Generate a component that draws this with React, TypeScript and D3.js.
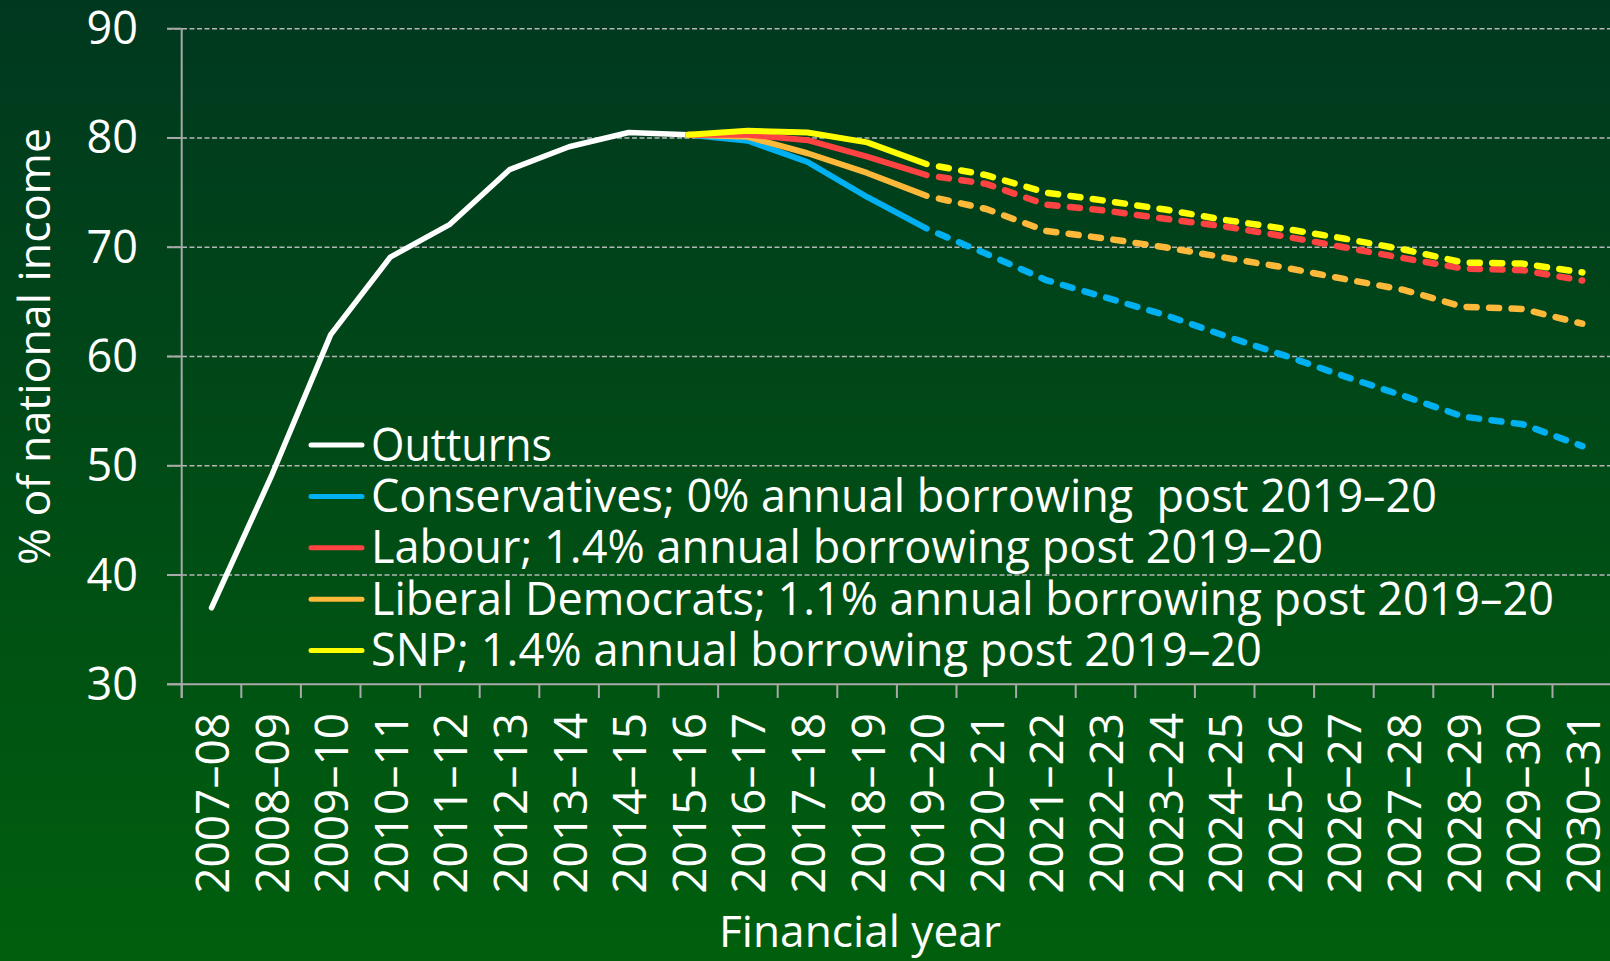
import React from "react";
import * as d3 from "d3";

const years = [
  "2007–08", "2008–09", "2009–10", "2010–11", "2011–12", "2012–13", "2013–14", "2014–15",
  "2015–16", "2016–17", "2017–18", "2018–19", "2019–20", "2020–21", "2021–22", "2022–23",
  "2023–24", "2024–25", "2025–26", "2026–27", "2027–28", "2028–29", "2029–30", "2030–31",
];

const yTicks = [30, 40, 50, 60, 70, 80, 90];

// Outturns: 2007–08 .. 2015–16
const outturns = [37.0, 49.0, 62.0, 69.1, 72.1, 77.1, 79.2, 80.5, 80.3];

// Party projections: 2015–16 .. 2030–31
const conservatives = [80.3, 79.75, 77.8, 74.6, 71.7, 69.4, 67.0, 65.4, 63.8, 61.9, 60.1, 58.2, 56.4, 54.5, 53.8, 51.8];
const labour = [80.3, 80.3, 79.8, 78.3, 76.6, 75.8, 73.9, 73.35, 72.6, 71.9, 71.0, 70.0, 69.0, 68.05, 67.9, 66.95];
const libdems = [80.3, 80.1, 78.6, 76.8, 74.7, 73.5, 71.5, 70.8, 70.0, 69.05, 68.15, 67.1, 66.1, 64.55, 64.35, 63.0];
const snp = [80.3, 80.65, 80.5, 79.6, 77.6, 76.6, 75.0, 74.25, 73.45, 72.5, 71.7, 70.8, 69.8, 68.6, 68.5, 67.7];

const legendLabels = [
  "Outturns",
  "Conservatives; 0% annual borrowing  post 2019–20",
  "Labour; 1.4% annual borrowing post 2019–20",
  "Liberal Democrats; 1.1% annual borrowing post 2019–20",
  "SNP; 1.4% annual borrowing post 2019–20",
];
const legendWidths = [181, 1066, 952, 1183, 891];

const colors = {
  outturns: "#ffffff",
  conservatives: "#00b0f0",
  labour: "#ff4242",
  libdems: "#ffb93a",
  snp: "#ffff00",
};

const W = 1610;
const H = 961;
const FONT = "'Open Sans', 'Noto Sans', sans-serif";

export default function App() {
  const x = d3.scaleBand<string>().domain(years).range([181.7, 181.7 + 24 * 59.6]).padding(0);
  const y = d3.scaleLinear().domain([30, 90]).range([684.3, 28.7]);
  const bw = x.bandwidth();
  const cx = (i: number) => (x(years[i]) as number) + bw / 2;

  const line = d3
    .line<[number, number]>()
    .x((d) => d[0])
    .y((d) => d[1])
    .curve(d3.curveLinear);

  const outPts: [number, number][] = outturns.map((v, i) => [cx(i), y(v)]);
  const partyStart = 8; // 2015–16
  const splitIdx = 4; // 2019–20 within party arrays

  const parties = [
    { key: "conservatives", values: conservatives, color: colors.conservatives },
    { key: "libdems", values: libdems, color: colors.libdems },
    { key: "labour", values: labour, color: colors.labour },
    { key: "snp", values: snp, color: colors.snp },
  ];

  const legendColors = [colors.outturns, colors.conservatives, colors.labour, colors.libdems, colors.snp];
  const legendRowY = (i: number) => 445 + i * 51.4;

  const axisColor = "#a9a9a9";
  const gridColor = "#b6b6b6";

  return (
    <svg
      width={W}
      height={H}
      style={{ position: "absolute", left: 0, top: 0, display: "block" }}
      fontFamily={FONT}
    >
      <defs>
        <linearGradient id="bg" x1="0" y1="0" x2="0" y2="1">
          <stop offset="0%" stopColor="#00381f" />
          <stop offset="100%" stopColor="#005f0d" />
        </linearGradient>
      </defs>
      <rect x={0} y={0} width={W} height={H} fill="url(#bg)" />

      {/* gridlines */}
      {yTicks
        .filter((t) => t !== 30)
        .map((t) => (
          <line
            key={"g" + t}
            x1={167}
            x2={W}
            y1={y(t)}
            y2={y(t)}
            stroke={gridColor}
            strokeWidth={1.6}
            strokeDasharray="5 2.5"
          />
        ))}
      {/* y tick marks */}
      {yTicks.map((t) => (
        <line key={"yt" + t} x1={167} x2={181.7} y1={y(t)} y2={y(t)} stroke={axisColor} strokeWidth={2} />
      ))}
      {/* axes */}
      <line x1={181.7} x2={181.7} y1={y(90)} y2={698} stroke={axisColor} strokeWidth={2} />
      <line x1={167} x2={W} y1={y(30)} y2={y(30)} stroke={axisColor} strokeWidth={2} />
      {years.map((yr) => (
        <line
          key={"xt" + yr}
          x1={x(yr) as number}
          x2={x(yr) as number}
          y1={y(30)}
          y2={698}
          stroke={axisColor}
          strokeWidth={2}
        />
      ))}

      {/* y tick labels */}
      {yTicks.map((t) => (
        <text key={"yl" + t} x={138} y={y(t) + 15.5} textAnchor="end" fill="#ffffff" fontSize={45}>
          {t}
        </text>
      ))}

      {/* x tick labels */}
      {years.map((yr, i) => (
        <text
          key={"xl" + yr}
          transform={`translate(${cx(i) + 17.5},713) rotate(-90)`}
          textAnchor="end"
          fill="#ffffff"
          fontSize={46}
        >
          {yr}
        </text>
      ))}

      {/* axis titles */}
      <text
        transform="translate(49.5,346.5) rotate(-90)"
        textAnchor="middle"
        fill="#ffffff"
        fontSize={44}
        textLength={437}
        lengthAdjust="spacingAndGlyphs"
      >
        % of national income
      </text>
      <text x={860} y={947} textAnchor="middle" fill="#ffffff" fontSize={44} textLength={282} lengthAdjust="spacingAndGlyphs">
        Financial year
      </text>

      {/* outturns */}
      <path
        d={line(outPts) || ""}
        fill="none"
        stroke={colors.outturns}
        strokeWidth={5.5}
        strokeLinecap="round"
        strokeLinejoin="round"
      />

      {/* party lines */}
      {parties.map((p) => {
        const pts: [number, number][] = p.values.map((v, i) => [cx(partyStart + i), y(v)]);
        const solid = pts.slice(0, splitIdx + 1);
        const dashed = pts.slice(splitIdx);
        return (
          <g key={p.key}>
            <path
              d={line(solid) || ""}
              fill="none"
              stroke={p.color}
              strokeWidth={6}
              strokeLinecap="round"
              strokeLinejoin="round"
            />
            <path
              d={line(dashed) || ""}
              fill="none"
              stroke={p.color}
              strokeWidth={6.5}
              strokeLinecap="round"
              strokeLinejoin="round"
              strokeDasharray="10 12.5"
              strokeDashoffset={10}
            />
          </g>
        );
      })}

      {/* legend */}
      {legendLabels.map((lab, i) => (
        <g key={"lg" + i}>
          <line
            x1={311}
            x2={362}
            y1={legendRowY(i)}
            y2={legendRowY(i)}
            stroke={legendColors[i]}
            strokeWidth={5}
            strokeLinecap="round"
          />
          <text
            x={371}
            y={legendRowY(i) + 15.5}
            fill="#ffffff"
            fontSize={45}
            textLength={legendWidths[i]}
            lengthAdjust="spacingAndGlyphs"
            style={{ whiteSpace: "pre" }}
          >
            {lab}
          </text>
        </g>
      ))}
    </svg>
  );
}
